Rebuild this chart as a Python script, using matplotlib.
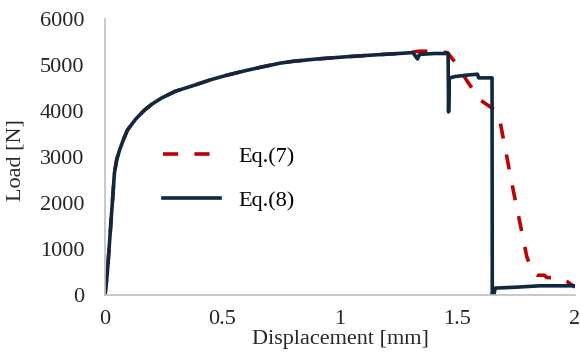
import matplotlib.pyplot as plt
import matplotlib.ticker as mticker

plt.rcParams['font.family'] = ['Liberation Serif', 'DejaVu Serif']

# Eq.(8) - solid curve
disp_eq8 = [0, 0.01, 0.02, 0.033, 0.04, 0.05, 0.062, 0.08, 0.096, 0.13, 0.168, 0.2, 0.24, 0.3,
            0.38, 0.45, 0.52, 0.6, 0.67, 0.745, 0.8, 0.9, 1.03, 1.15, 1.25, 1.31, 1.33, 1.335,
            1.34, 1.4, 1.46, 1.462, 1.465, 1.468, 1.49, 1.54, 1.585, 1.59, 1.647, 1.648, 1.652,
            1.655, 1.66, 1.75, 1.85, 2.0]
load_eq8 = [0, 480, 1200, 2130, 2650, 2950, 3150, 3400, 3590, 3820, 4020, 4150, 4280, 4430,
            4560, 4680, 4780, 4880, 4960, 5040, 5080, 5130, 5180, 5220, 5250, 5270, 5130, 5200,
            5230, 5250, 5250, 3980, 4700, 4720, 4750, 4780, 4800, 4720, 4720, 0, 100,
            0, 150, 170, 200, 200]

# Eq.(7) - dashed curve
disp_eq7 = [0, 0.01, 0.02, 0.033, 0.04, 0.05, 0.062, 0.08, 0.096, 0.13, 0.168, 0.2, 0.24, 0.3,
            0.38, 0.45, 0.52, 0.6, 0.67, 0.745, 0.8, 0.9, 1.03, 1.15, 1.25, 1.31, 1.335, 1.4,
            1.457, 1.49, 1.545, 1.596, 1.66, 1.68, 1.71, 1.737, 1.766, 1.795, 1.82, 1.84, 1.87,
            1.88, 1.936, 1.97, 2.0]
load_eq7 = [0, 480, 1200, 2130, 2650, 2950, 3150, 3400, 3590, 3820, 4020, 4150, 4280, 4430,
            4560, 4680, 4780, 4880, 4960, 5040, 5080, 5130, 5180, 5220, 5250, 5280, 5300, 5300,
            5270, 5060, 4620, 4240, 4020, 3800, 3000, 2280, 1560, 830, 500, 430, 430,
            380, 370, 280, 170]

xticks = [0, 0.5, 1, 1.5, 2]
yticks = [0, 1000, 2000, 3000, 4000, 5000, 6000]

fig = plt.figure(figsize=(5.8, 3.57), dpi=100)
ax = fig.add_axes([105/580, 62/357, 470/580, 276/357])

ax.plot(disp_eq7, load_eq7, color='#c00000', lw=2.6, dashes=(4.2, 4.5), label='Eq.(7)')
ax.plot(disp_eq8, load_eq8, color='#0e2841', lw=2.6, label='Eq.(8)')

ax.set_xlim(0, 2)
ax.set_ylim(0, 6000)
ax.set_xticks(xticks)
ax.set_yticks(yticks)
ax.xaxis.set_major_formatter(mticker.FuncFormatter(lambda v, p: '%g' % v))
ax.tick_params(length=0, labelsize=16, labelcolor='#262626')
ax.tick_params(axis='x', pad=11)
ax.tick_params(axis='y', pad=15)

for s in ['top', 'right']:
    ax.spines[s].set_visible(False)
for s in ['left', 'bottom']:
    ax.spines[s].set_color('#bfbfbf')
    ax.spines[s].set_linewidth(1.2)

ax.set_xlabel('Displacement [mm]', fontsize=16, color='#262626')
ax.xaxis.set_label_coords(0.5, -0.128)
ax.set_ylabel('Load [N]', fontsize=16, color='#262626')
ax.yaxis.set_label_coords(-0.17, 0.49)

ax.legend(loc='upper left', bbox_to_anchor=(0.08, 0.61), frameon=False, fontsize=16,
          handlelength=2.6, labelspacing=1.05, handletextpad=0.8)

fig.savefig('out.png', dpi=100)
